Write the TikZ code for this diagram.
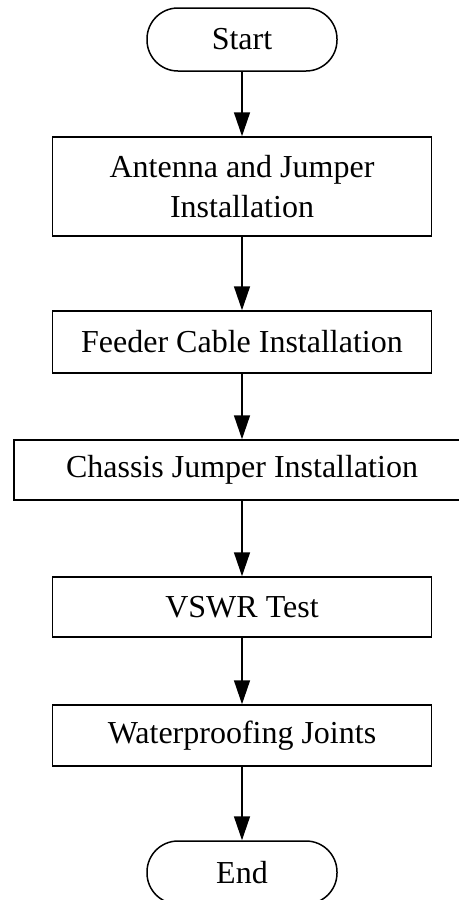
\documentclass[tikz,border=0pt]{standalone}
\usepackage{fontspec}
\setmainfont{Liberation Serif}
\usetikzlibrary{arrows.meta}
\begin{document}
\begin{tikzpicture}[x=0.5pt, y=-0.5pt, line width=0.75pt,
  every node/.style={font=\fontsize{16}{20}\selectfont, inner sep=0pt, align=center},
  terminal/.style={draw, rounded corners=15.5pt, minimum width=95pt, minimum height=31.5pt},
  stepbox/.style={draw, minimum width=189.5pt},
  flow/.style={-{Triangle[length=12pt,width=8pt]}}]
  \clip (0,0) rectangle (459,900);
  \node[terminal] (start) at (242,39.5) {Start};
  \node[stepbox, minimum height=49.5pt] (antenna) at (242,186.5) {Antenna and Jumper\\Installation};
  \node[stepbox, minimum height=31pt] (feeder) at (242,342) {Feeder Cable Installation};
  \node[stepbox, minimum width=228pt, minimum height=30pt] (chassis) at (242,470) {Chassis Jumper Installation};
  \node[stepbox, minimum height=30pt] (vswr) at (242,607) {VSWR Test};
  \node[stepbox, minimum height=30.5pt] (waterproof) at (242,735.5) {Waterproofing Joints};
  \node[terminal] (stop) at (242,872.5) {End};
  \draw[flow] (start) -- (antenna);
  \draw[flow] (antenna) -- (feeder);
  \draw[flow] (feeder) -- (chassis);
  \draw[flow] (chassis) -- (vswr);
  \draw[flow] (vswr) -- (waterproof);
  \draw[flow] (waterproof) -- (stop);
\end{tikzpicture}
\end{document}
